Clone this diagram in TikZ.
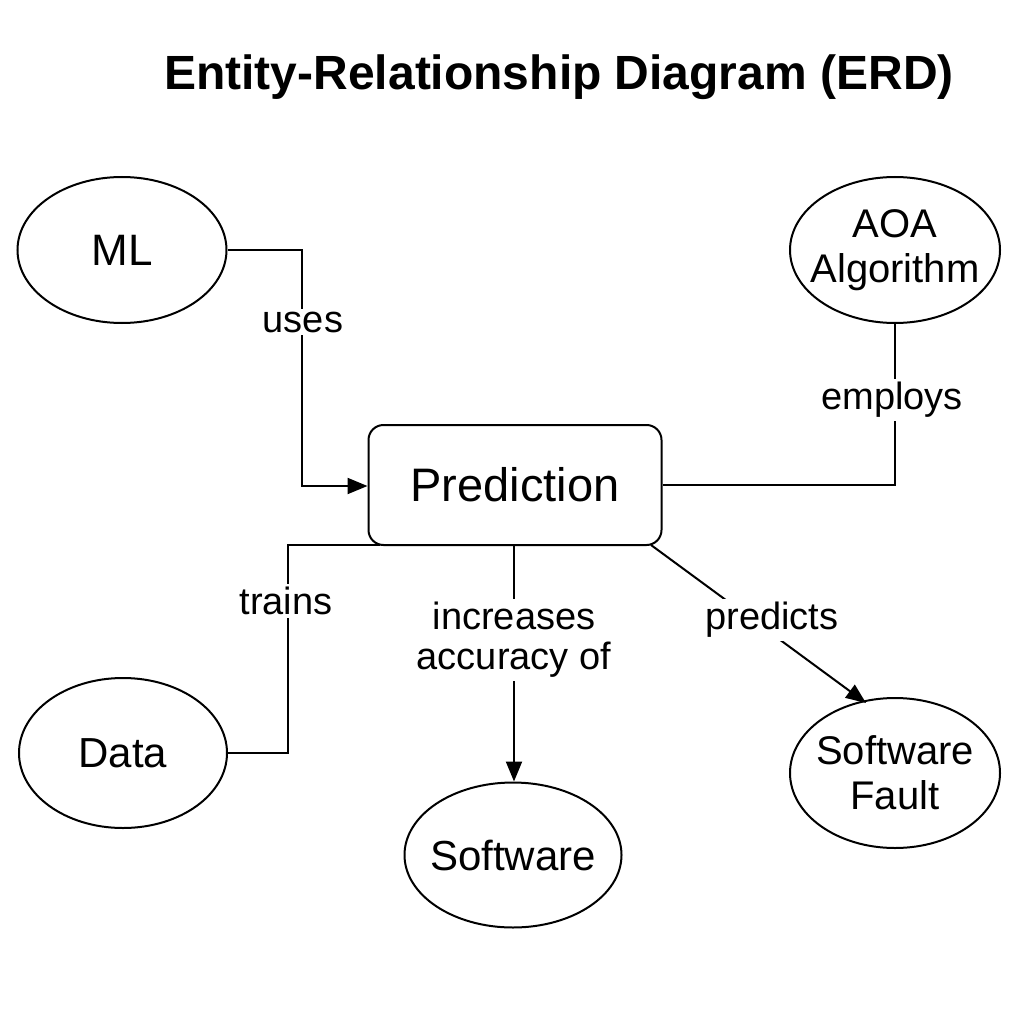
\documentclass[tikz,border=0pt]{standalone}
\usepackage{fontspec}
\setmainfont{Liberation Sans}
\usetikzlibrary{shapes.geometric,arrows.meta}
\begin{document}
\begin{tikzpicture}[x=1pt,y=-1pt,
  ent/.style={draw,line width=2pt,ellipse,inner sep=0pt},
  lbl/.style={fill=white,inner sep=3pt,font=\fontsize{38}{40}\selectfont,align=center},
  conn/.style={line width=2pt},
  arr/.style={line width=2pt,-{Triangle[length=20pt,width=16pt]}},
  etext/.style={font=\fontsize{42}{46}\selectfont,align=center},
  etwo/.style={font=\fontsize{40}{45}\selectfont,align=center}]
\useasboundingbox (0,0) rectangle (1024,1024);
\node (title) at (559,77) {\fontsize{48}{52}\selectfont\bfseries Entity-Relationship Diagram (ERD)};
\node[ent,minimum width=209pt,minimum height=146pt] (ml) at (122,250) {};
\node[etext,font=\fontsize{44}{46}\selectfont] at (ml) {ML};
\node[ent,minimum width=210pt,minimum height=146pt] (aoa) at (895,250) {};
\node[etwo] at (aoa) {AOA\\Algorithm};
\node[draw,line width=2pt,rounded corners=15pt,minimum width=293pt,minimum height=120pt] (pred) at (515,485) {};
\node[etext,font=\fontsize{47}{48}\selectfont] at (pred) {Prediction};
\node[ent,minimum width=208pt,minimum height=150pt] (data) at (123,753) {};
\node[etext] at (data) {Data};
\node[ent,minimum width=217pt,minimum height=145pt] (sw) at (513,855) {};
\node[etext] at (sw) {Software};
\node[ent,minimum width=210pt,minimum height=150pt] (sf) at (895,773) {};
\node[etwo] at (sf) {Software\\Fault};
% connectors
\draw[arr] (ml.east) -- (302,250) -- (302,486) -- (pred.west |- 0,486);
\node[lbl] (uses) at (303,322) {uses};
\draw[conn] (aoa.south) -- (895,485) -- (pred.east |- 0,485);
\node[lbl] (employs) at (892,400) {employs};
\draw[conn] (data.east) -- (288,753) -- (288,545) -- (380,545);
\node[lbl] (trains) at (286,601) {trains};
\draw[arr] (pred.south -| 514,0) -- (sw.north -| 514,0);
\node[lbl] (inc) at (514,640) {increases\\accuracy of};
\coordinate (pc) at (651,545);
\draw[arr] (pc) -- (866,703);
\node[lbl] (predicts) at (772,620) {predicts};
\end{tikzpicture}
\end{document}
